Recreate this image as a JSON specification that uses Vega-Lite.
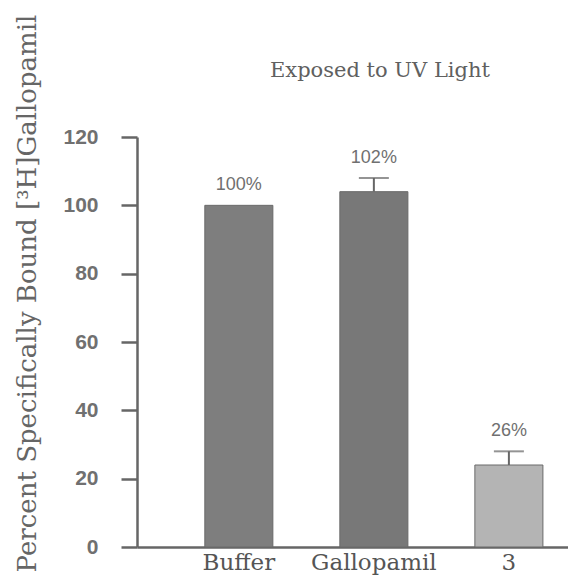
{
  "$schema": "https://vega.github.io/schema/vega-lite/v6.json",
  "autosize": "none",
  "width": 431,
  "height": 410,
  "padding": {"left": 137, "top": 137, "right": 0, "bottom": 33},
  "background": "white",
  "title": {
    "text": "Exposed to UV Light",
    "font": "DejaVu Serif",
    "fontSize": 21,
    "fontWeight": "normal",
    "color": "#606060",
    "anchor": "start",
    "frame": "group",
    "dx": 133,
    "offset": 0,
    "dy": 67
  },
  "config": {"view": {"stroke": null}},
  "data": {
    "values": [
      {"group": "Buffer", "value": 100, "upper": null, "label": "100%"},
      {"group": "Gallopamil", "value": 104, "upper": 108, "label": "102%"},
      {"group": "3", "value": 24, "upper": 28, "label": "26%"}
    ]
  },
  "transform": [{"calculate": "isValid(datum.upper) ? datum.upper : datum.value", "as": "top"}],
  "encoding": {
    "x": {
      "field": "group",
      "type": "nominal",
      "sort": ["Buffer", "Gallopamil", "3"],
      "scale": {"paddingInner": 0.496, "paddingOuter": 0.344, "align": 0.73},
      "axis": {
        "title": null,
        "labelAngle": 0,
        "ticks": false,
        "domainColor": "#666666",
        "domainWidth": 2.5,
        "labelFont": "DejaVu Serif",
        "labelFontSize": 23,
        "labelColor": "#555555",
        "labelPadding": 4
      }
    }
  },
  "layer": [
    {
      "mark": {"type": "bar", "stroke": "#6a6a6a", "strokeWidth": 1},
      "encoding": {
        "y": {
          "field": "value",
          "type": "quantitative",
          "scale": {"domain": [0, 120], "nice": false},
          "axis": {
            "values": [0, 20, 40, 60, 80, 100, 120],
            "grid": false,
            "tickSize": 16,
            "tickWidth": 2.5,
            "tickColor": "#666666",
            "domainColor": "#666666",
            "domainWidth": 2.5,
            "labelFont": "Liberation Sans",
            "labelFontSize": 21,
            "labelFontWeight": "bold",
            "labelColor": "#707070",
            "labelPadding": 23,
            "title": "Percent Specifically Bound [³H]Gallopamil",
            "titleFont": "DejaVu Serif",
            "titleFontSize": 26,
            "titleFontWeight": "normal",
            "titleColor": "#666666",
            "titleAngle": -90,
            "titleAlign": "center",
            "titleBaseline": "middle",
            "titleX": -110,
            "titleY": 156
          }
        },
        "color": {
          "field": "group",
          "type": "nominal",
          "scale": {"domain": ["Buffer", "Gallopamil", "3"], "range": ["#7e7e7e", "#787878", "#b4b4b4"]},
          "legend": null
        }
      }
    },
    {
      "mark": {"type": "rule", "color": "#666666", "strokeWidth": 2},
      "transform": [{"filter": "isValid(datum.upper)"}],
      "encoding": {
        "y": {"field": "value", "type": "quantitative"},
        "y2": {"field": "upper"}
      }
    },
    {
      "mark": {"type": "tick", "color": "#666666", "thickness": 2, "size": 30, "orient": "horizontal"},
      "transform": [{"filter": "isValid(datum.upper)"}],
      "encoding": {
        "y": {"field": "upper", "type": "quantitative"}
      }
    },
    {
      "mark": {"type": "text", "font": "Liberation Sans", "fontSize": 18, "color": "#707070", "baseline": "bottom", "dy": -11},
      "encoding": {
        "y": {"field": "top", "type": "quantitative"},
        "text": {"field": "label"}
      }
    }
  ]
}
